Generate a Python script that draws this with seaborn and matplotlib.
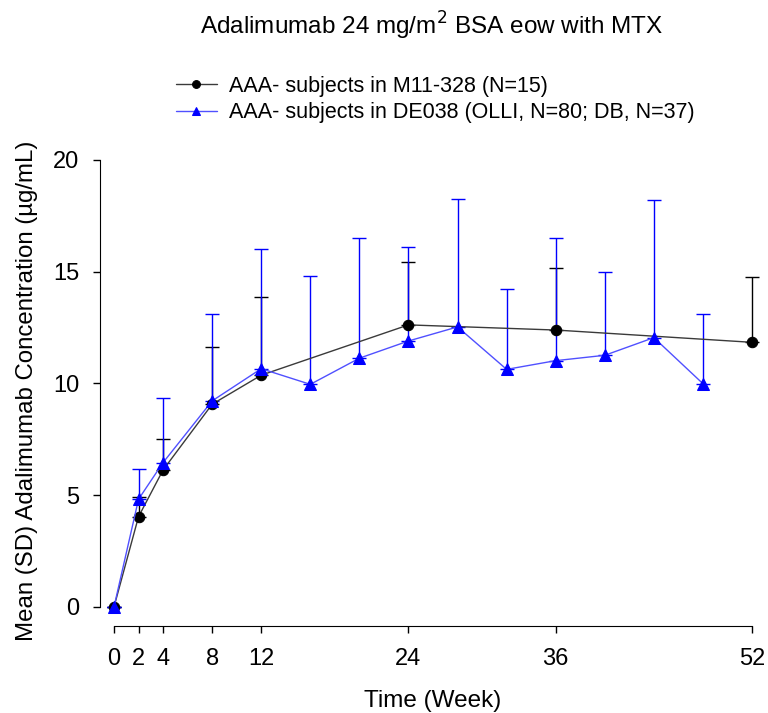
import numpy as np
import pandas as pd
import matplotlib
matplotlib.use('Agg')
import matplotlib.pyplot as plt
import seaborn as sns

# data ---------------------------------------
weeks_m11 = [0, 2, 4, 8, 12, 24, 36, 52]
mean_m11 = [0, 4.04, 6.13, 9.07, 10.37, 12.62, 12.39, 11.84]
sd_m11 = [0, 0.87, 1.39, 2.55, 3.50, 2.80, 2.78, 2.91]

weeks_de = [0, 2, 4, 8, 12, 16, 20, 24, 28, 32, 36, 40, 44, 48]
mean_de = [0, 4.82, 6.46, 9.22, 10.66, 9.96, 11.13, 11.90, 12.53, 10.63, 11.02, 11.26, 12.05, 9.99]
sd_de = [0, 1.34, 2.88, 3.88, 5.37, 4.84, 5.38, 4.19, 5.74, 3.60, 5.49, 3.73, 6.17, 3.13]

label_m11 = 'AAA- subjects in M11-328 (N=15)'
label_de = 'AAA- subjects in DE038 (OLLI, N=80; DB, N=37)'
x_ticks = [0, 2, 4, 8, 12, 24, 36, 52]
y_ticks = [0, 5, 10, 15, 20]

df_m11 = pd.DataFrame({'week': weeks_m11, 'mean': mean_m11, 'sd': sd_m11})
df_de = pd.DataFrame({'week': weeks_de, 'mean': mean_de, 'sd': sd_de})

sns.set_style('ticks', {'axes.edgecolor': 'black', 'text.color': 'black',
                        'xtick.color': 'black', 'ytick.color': 'black'})
plt.rcParams['font.family'] = ['Liberation Sans', 'DejaVu Sans']

fig = plt.figure(figsize=(7.68, 7.13), dpi=100)
ax = fig.add_axes([100 / 768, (713 - 626) / 713, 660 / 768, (626 - 155) / 713])

# upper SD bars only (black first, blue drawn over it)
ax.errorbar(df_m11['week'], df_m11['mean'], yerr=[np.zeros(len(df_m11)), df_m11['sd']],
            fmt='none', ecolor='black', elinewidth=1, capsize=4.7, capthick=1, zorder=1)
ax.errorbar(df_de['week'], df_de['mean'], yerr=[np.zeros(len(df_de)), df_de['sd']],
            fmt='none', ecolor='#0000ff', elinewidth=1, capsize=4.7, capthick=1, zorder=2)

sns.lineplot(data=df_m11, x='week', y='mean', ax=ax, color='#3a3a3a', linewidth=1,
             marker='o', markersize=7.5, markerfacecolor='black', markeredgecolor='black',
             label=label_m11, zorder=3)
sns.lineplot(data=df_de, x='week', y='mean', ax=ax, color='#5050ff', linewidth=1,
             marker='^', markersize=8.5, markerfacecolor='#0000ff', markeredgecolor='#0000ff',
             label=label_de, zorder=4)

ax.set_xlim(-1.14, 52.65)
ax.set_ylim(-0.85, 20.22)
ax.set_xticks(x_ticks)
ax.set_yticks(y_ticks)
ax.spines['left'].set_bounds(0, 20)
ax.spines['bottom'].set_bounds(0, 52)
sns.despine(ax=ax)
ax.tick_params(axis='y', length=5, width=1, labelsize=17, pad=10)
ax.tick_params(axis='x', length=5, width=1, labelsize=17, pad=11)
ax.set_xlabel('')
ax.set_ylabel('')

fig.text(433 / 768, 1 - 707 / 713, 'Time (Week)', ha='center', va='baseline', fontsize=17.5)
fig.text(27 / 768, 1 - 391 / 713, 'Mean (SD) Adalimumab Concentration (\u00b5g/mL)',
         rotation=90, ha='center', va='center', fontsize=17.3)
fig.text(432 / 768, 1 - 35 / 713, 'Adalimumab 24 mg/m$^2$ BSA eow with MTX',
         ha='center', va='baseline', fontsize=17.5)

ax.legend(loc='upper left', bbox_to_anchor=(165 / 768, 1 - 65 / 713),
          bbox_transform=fig.transFigure, frameon=False, fontsize=15.5,
          handlelength=1.9, handletextpad=0.55, labelspacing=0.25, borderpad=0,
          markerscale=0.75)

fig.savefig('out.png', dpi=100)
